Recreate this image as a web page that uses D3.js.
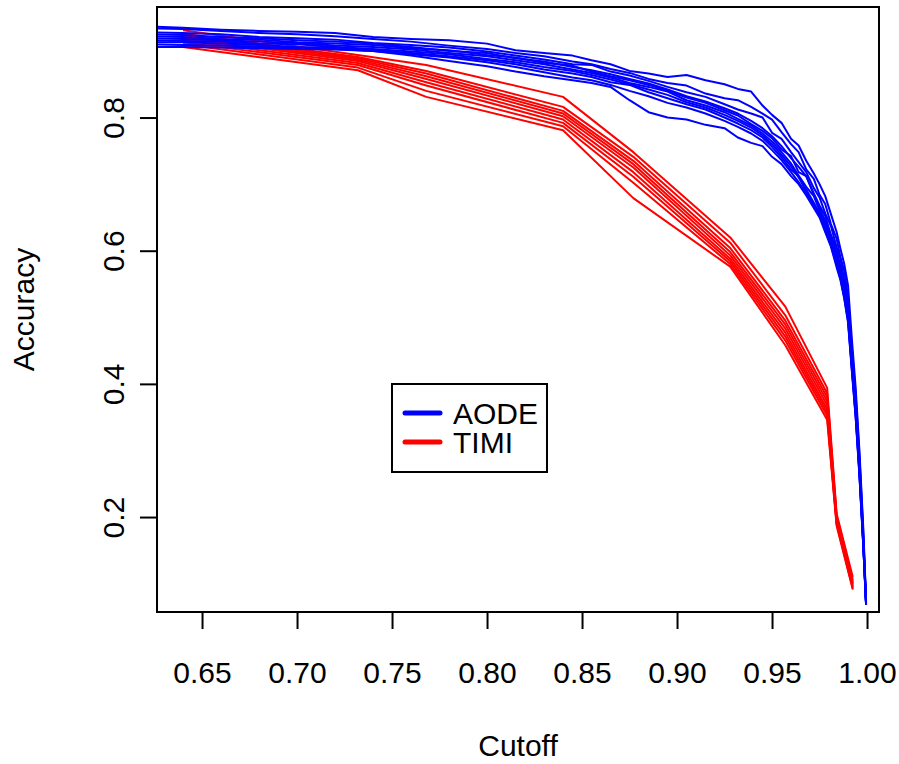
<!DOCTYPE html>
<html>
<head>
<meta charset="utf-8">
<script src="https://cdn.jsdelivr.net/npm/d3@7/dist/d3.min.js"></script>
<style>
  body { margin: 0; background: #fff; }
  text { font-family: "Liberation Sans", Arial, Helvetica, sans-serif; }
</style>
</head>
<body>
<div id="chart"></div>
<script>
// ---- data ----
var xTicks = [0.65, 0.70, 0.75, 0.80, 0.85, 0.90, 0.95, 1.00];
var yTicks = [0.2, 0.4, 0.6, 0.8];
var seriesNames = ["AODE", "TIMI"];

// TIMI: piecewise linear, same cutoffs for every run
var timiCutoff = [0.640, 0.732, 0.768, 0.840, 0.877, 0.928, 0.957, 0.979, 0.984, 0.9925];
var timiRun1 = [0.931, 0.894, 0.879, 0.831, 0.748, 0.620, 0.516, 0.394, 0.205, 0.110];
var timiRun2 = [0.926, 0.891, 0.870, 0.816, 0.741, 0.612, 0.503, 0.386, 0.202, 0.106];
var timiRun3 = [0.924, 0.889, 0.866, 0.810, 0.735, 0.604, 0.495, 0.380, 0.199, 0.103];
var timiRun4 = [0.921, 0.887, 0.862, 0.806, 0.730, 0.598, 0.489, 0.374, 0.197, 0.101];
var timiRun5 = [0.919, 0.885, 0.858, 0.802, 0.725, 0.593, 0.483, 0.368, 0.195, 0.099];
var timiRun6 = [0.916, 0.882, 0.853, 0.797, 0.718, 0.588, 0.477, 0.362, 0.193, 0.097];
var timiRun7 = [0.913, 0.879, 0.848, 0.792, 0.711, 0.584, 0.471, 0.357, 0.191, 0.095];
var timiRun8 = [0.910, 0.875, 0.840, 0.787, 0.702, 0.580, 0.465, 0.352, 0.189, 0.093];
var timiRun9 = [0.906, 0.871, 0.831, 0.781, 0.679, 0.576, 0.458, 0.346, 0.187, 0.091];

// AODE: finer cutoff grid, jagged runs
var aodeCutoff = [0.620, 0.640, 0.660, 0.680, 0.700, 0.720, 0.740, 0.760, 0.780, 0.800,
  0.815, 0.830, 0.845, 0.855, 0.865, 0.875, 0.885, 0.895, 0.905, 0.915,
  0.925, 0.932, 0.939, 0.945, 0.950, 0.955, 0.960, 0.964, 0.968, 0.972,
  0.975, 0.978, 0.981, 0.984, 0.986, 0.988, 0.990, 0.992, 0.994, 0.996,
  0.998, 0.9995];
var aodeRun1 = [0.937, 0.935, 0.932, 0.930, 0.929, 0.927, 0.921, 0.918, 0.916, 0.911,
  0.901, 0.897, 0.893, 0.886, 0.880, 0.870, 0.866, 0.861, 0.864, 0.856,
  0.850, 0.843, 0.839, 0.818, 0.804, 0.792, 0.768, 0.758, 0.735, 0.716,
  0.700, 0.682, 0.655, 0.628, 0.603, 0.580, 0.548, 0.468, 0.395, 0.300,
  0.185, 0.075];
var aodeRun2 = [0.934, 0.933, 0.930, 0.927, 0.925, 0.922, 0.918, 0.914, 0.908, 0.903,
  0.897, 0.892, 0.884, 0.880, 0.873, 0.867, 0.858, 0.852, 0.848, 0.836,
  0.829, 0.826, 0.816, 0.806, 0.797, 0.778, 0.760, 0.748, 0.722, 0.708,
  0.684, 0.670, 0.640, 0.618, 0.590, 0.570, 0.530, 0.455, 0.385, 0.292,
  0.178, 0.073];
var aodeRun3 = [0.928, 0.927, 0.925, 0.921, 0.919, 0.917, 0.912, 0.909, 0.905, 0.899,
  0.893, 0.887, 0.880, 0.879, 0.869, 0.863, 0.855, 0.846, 0.838, 0.831,
  0.820, 0.812, 0.806, 0.800, 0.777, 0.768, 0.748, 0.733, 0.718, 0.694,
  0.680, 0.656, 0.637, 0.605, 0.588, 0.556, 0.522, 0.448, 0.378, 0.286,
  0.172, 0.072];
var aodeRun4 = [0.925, 0.924, 0.921, 0.919, 0.916, 0.914, 0.911, 0.906, 0.900, 0.897,
  0.889, 0.884, 0.876, 0.871, 0.865, 0.858, 0.851, 0.842, 0.832, 0.824,
  0.814, 0.806, 0.795, 0.784, 0.772, 0.757, 0.739, 0.726, 0.712, 0.686,
  0.668, 0.652, 0.624, 0.602, 0.576, 0.552, 0.515, 0.441, 0.372, 0.280,
  0.168, 0.071];
var aodeRun5 = [0.922, 0.921, 0.918, 0.917, 0.913, 0.911, 0.909, 0.904, 0.901, 0.894,
  0.890, 0.882, 0.878, 0.869, 0.862, 0.856, 0.849, 0.840, 0.830, 0.822,
  0.811, 0.803, 0.790, 0.780, 0.769, 0.752, 0.742, 0.718, 0.712, 0.684,
  0.664, 0.645, 0.620, 0.596, 0.570, 0.548, 0.510, 0.437, 0.366, 0.276,
  0.165, 0.070];
var aodeRun6 = [0.919, 0.918, 0.916, 0.914, 0.912, 0.908, 0.906, 0.902, 0.897, 0.892,
  0.886, 0.880, 0.872, 0.867, 0.860, 0.852, 0.846, 0.839, 0.826, 0.818,
  0.808, 0.798, 0.788, 0.776, 0.764, 0.748, 0.731, 0.713, 0.696, 0.682,
  0.660, 0.638, 0.616, 0.590, 0.566, 0.540, 0.505, 0.432, 0.362, 0.272,
  0.163, 0.070];
var aodeRun7 = [0.916, 0.915, 0.914, 0.911, 0.910, 0.906, 0.903, 0.899, 0.895, 0.888,
  0.883, 0.876, 0.870, 0.864, 0.857, 0.850, 0.842, 0.834, 0.823, 0.815,
  0.804, 0.795, 0.785, 0.773, 0.760, 0.744, 0.727, 0.710, 0.692, 0.672,
  0.656, 0.642, 0.610, 0.586, 0.563, 0.536, 0.502, 0.428, 0.358, 0.268,
  0.162, 0.069];
var aodeRun8 = [0.913, 0.913, 0.911, 0.909, 0.906, 0.905, 0.901, 0.897, 0.892, 0.886,
  0.880, 0.872, 0.866, 0.861, 0.853, 0.849, 0.838, 0.829, 0.820, 0.812,
  0.800, 0.791, 0.781, 0.770, 0.756, 0.740, 0.722, 0.712, 0.688, 0.669,
  0.653, 0.632, 0.610, 0.582, 0.560, 0.533, 0.498, 0.425, 0.355, 0.266,
  0.160, 0.069];
var aodeRun9 = [0.910, 0.909, 0.908, 0.906, 0.905, 0.903, 0.900, 0.895, 0.890, 0.883,
  0.876, 0.868, 0.860, 0.856, 0.849, 0.840, 0.832, 0.822, 0.815, 0.806,
  0.795, 0.786, 0.776, 0.765, 0.751, 0.736, 0.718, 0.703, 0.686, 0.666,
  0.658, 0.630, 0.608, 0.579, 0.558, 0.530, 0.495, 0.422, 0.352, 0.264,
  0.159, 0.068];
var aodeRun10 = [0.906, 0.906, 0.905, 0.904, 0.903, 0.902, 0.900, 0.893, 0.885, 0.877,
  0.869, 0.862, 0.856, 0.852, 0.846, 0.826, 0.808, 0.800, 0.797, 0.789,
  0.784, 0.770, 0.762, 0.757, 0.741, 0.730, 0.712, 0.700, 0.683, 0.664,
  0.650, 0.628, 0.606, 0.575, 0.556, 0.528, 0.492, 0.420, 0.350, 0.262,
  0.158, 0.068];

var timiRuns = [timiRun1, timiRun2, timiRun3, timiRun4, timiRun5, timiRun6, timiRun7, timiRun8, timiRun9];
var aodeRuns = [aodeRun1, aodeRun2, aodeRun3, aodeRun4, aodeRun5, aodeRun6, aodeRun7, aodeRun8, aodeRun9, aodeRun10];

// ---- layout ----
var svgWidth = 899;
var svgHeight = 764;
var margin = { top: 7, right: 20, bottom: 152, left: 157 };
var width = svgWidth - margin.left - margin.right;
var height = svgHeight - margin.top - margin.bottom;
var fontSize = 30;

var svg = d3.select("#chart")
  .append("svg")
  .attr("width", svgWidth)
  .attr("height", svgHeight)
  .style("display", "block");

var chartGroup = svg.append("g")
  .attr("transform", `translate(${margin.left}, ${margin.top})`);

var xScale = d3.scaleLinear().domain([0.6263, 1.0063]).range([0, width]);
var yScale = d3.scaleLinear().domain([0.0574, 0.966]).range([height, 0]);

chartGroup.append("clipPath")
  .attr("id", "plotClip")
  .append("rect")
  .attr("width", width)
  .attr("height", height);

var line = d3.line()
  .x(d => xScale(d[0]))
  .y(d => yScale(d[1]));

var linesGroup = chartGroup.append("g").attr("clip-path", "url(#plotClip)");

// red first, blue drawn on top
timiRuns.forEach(function (run) {
  linesGroup.append("path")
    .datum(timiCutoff.map((c, i) => [c, run[i]]))
    .attr("d", line)
    .attr("fill", "none")
    .attr("stroke", "#ff0000")
    .attr("stroke-width", 2)
    .attr("stroke-linejoin", "round");
});
aodeRuns.forEach(function (run) {
  linesGroup.append("path")
    .datum(aodeCutoff.map((c, i) => [c, run[i]]))
    .attr("d", line)
    .attr("fill", "none")
    .attr("stroke", "#0000ff")
    .attr("stroke-width", 2)
    .attr("stroke-linejoin", "round");
});

// box
chartGroup.append("rect")
  .attr("width", width)
  .attr("height", height)
  .attr("fill", "none")
  .attr("stroke", "#000")
  .attr("stroke-width", 2);

// axes
var tickLen = 17;
var bottomAxis = d3.axisBottom(xScale)
  .tickValues(xTicks)
  .tickFormat(d3.format(".2f"))
  .tickSize(tickLen)
  .tickPadding(33);
var xAxis = chartGroup.append("g")
  .attr("transform", `translate(0, ${height})`)
  .call(bottomAxis);

var leftAxis = d3.axisLeft(yScale)
  .tickValues(yTicks)
  .tickFormat(d3.format(".1f"))
  .tickSize(tickLen);
var yAxis = chartGroup.append("g").call(leftAxis);

[xAxis, yAxis].forEach(function (g) {
  g.select(".domain").remove();
  g.selectAll(".tick line").attr("stroke", "#000").attr("stroke-width", 2);
  g.selectAll(".tick text")
    .attr("fill", "#000")
    .style("font-size", fontSize + "px");
});

// y labels parallel to axis
yAxis.selectAll(".tick text")
  .attr("transform", "rotate(-90)")
  .attr("x", 0)
  .attr("y", -33)
  .attr("dy", null)
  .attr("text-anchor", "middle");

// axis titles
chartGroup.append("text")
  .attr("x", width / 2)
  .attr("y", height + 144)
  .attr("text-anchor", "middle")
  .style("font-size", fontSize + "px")
  .text("Cutoff");

chartGroup.append("text")
  .attr("transform", "rotate(-90)")
  .attr("x", -height / 2)
  .attr("y", -123)
  .attr("text-anchor", "middle")
  .style("font-size", fontSize + "px")
  .text("Accuracy");

// legend
var legend = chartGroup.append("g")
  .attr("transform", `translate(${392 - margin.left}, ${384 - margin.top})`);
legend.append("rect")
  .attr("width", 155)
  .attr("height", 88)
  .attr("fill", "#fff")
  .attr("stroke", "#000")
  .attr("stroke-width", 2);

var legendColors = ["#0000ff", "#ff0000"];
seriesNames.forEach(function (name, i) {
  legend.append("line")
    .attr("x1", 13).attr("x2", 48)
    .attr("y1", 29 + i * 29).attr("y2", 29 + i * 29)
    .attr("stroke", legendColors[i])
    .attr("stroke-width", 5)
    .attr("stroke-linecap", "round");
  legend.append("text")
    .attr("x", 61)
    .attr("y", 40 + i * 29)
    .style("font-size", fontSize + "px")
    .text(name);
});
</script>
</body>
</html>
